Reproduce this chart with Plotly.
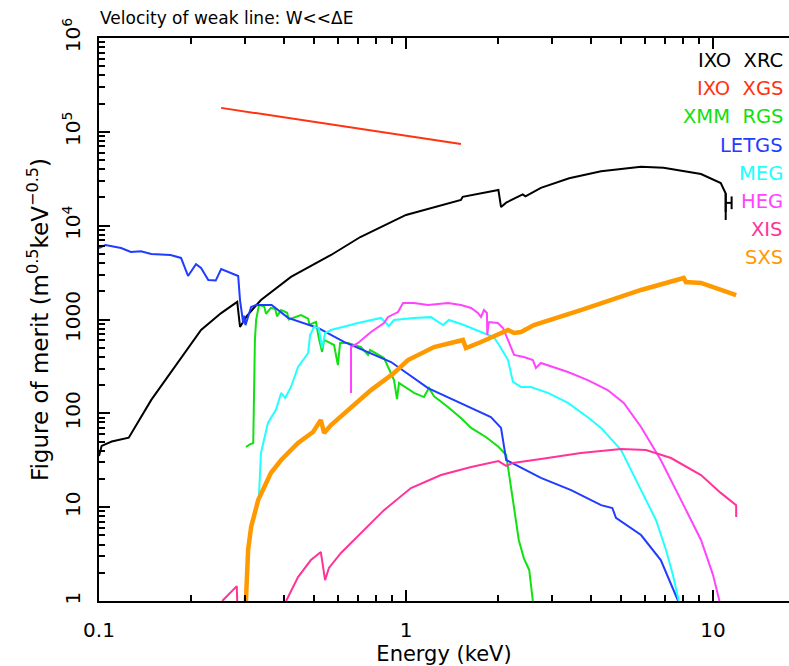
import plotly.graph_objects as go

# ---------------- data (energy in keV, figure of merit) ----------------
xrc_e = [0.1, 0.102, 0.11, 0.125, 0.148, 0.178, 0.215, 0.25, 0.282, 0.288, 0.303, 0.337,
         0.422, 0.57, 0.71, 1.0, 1.51, 1.53, 2.0, 2.04, 2.12, 2.4, 2.45, 2.75, 3.4, 4.32,
         5.83, 6.9, 9.14, 10.6, 11.0, 11.0]
xrc_v = [35, 45, 50, 55, 139, 327, 773, 1170, 1540, 832, 1090, 1615,
         2840, 4870, 7570, 13000, 18800, 20300, 24000, 15800, 17600, 21500, 20500, 25300, 32000, 38000,
         42500, 41500, 35500, 28500, 22000, 14000]
xrc_h_e = [11.0, 11.0, None, 11.0, 11.5, None, 11.5, 11.5]
xrc_h_v = [22000, 11500, None, 17500, 17500, None, 20500, 15000]

xgs_e = [0.25, 1.51]
xgs_v = [180000, 74000]

rgs_e = [0.301, 0.311, 0.318, 0.32, 0.322, 0.325, 0.332, 0.345, 0.35, 0.363, 0.375, 0.38,
         0.392, 0.41, 0.415, 0.455, 0.48, 0.485, 0.509, 0.52, 0.533, 0.541, 0.583, 0.6, 0.61,
         0.647, 0.714, 0.752, 0.764, 0.848, 0.914, 0.935, 0.949, 1.062, 1.144, 1.188, 1.234,
         1.37, 1.51, 1.63, 1.82, 2.0, 2.12, 2.23, 2.33, 2.42, 2.52, 2.59]
rgs_v = [43.8, 47, 48, 139, 605, 990, 1430, 1380, 1150, 1330, 1290, 1080,
         1260, 1180, 1000, 1117, 1020, 880, 940, 635, 451, 605, 535, 327, 562,
         562, 509, 419, 473, 389, 226, 142, 211, 165, 149, 186, 152,
         117, 89, 70, 56, 44, 36, 11.9, 4.47, 2.87, 2.14, 1]

letgs_e = [0.1, 0.105, 0.118, 0.127, 0.137, 0.148, 0.171, 0.185, 0.195, 0.207, 0.215,
           0.227, 0.24, 0.25, 0.284, 0.288, 0.295, 0.297, 0.3, 0.313, 0.325, 0.365, 0.413,
           0.517, 0.628, 0.894, 1.18, 1.54, 1.89, 2.04, 2.12, 2.75, 3.45, 4.32, 4.7, 4.83,
           5.83, 6.76, 7.7]
letgs_v = [5780, 6230, 5780, 5250, 5330, 4990, 4870, 4530, 2910, 3890, 3540,
           2640, 2600, 3450, 2910, 1600, 918, 1100, 870, 1360, 1430, 1430, 1040,
           812, 577, 352, 186, 123, 91, 70, 31.8, 20.5, 15.2, 10.5, 9.8, 7.7,
           5.05, 2.73, 1]

meg_e = [0.332, 0.337, 0.355, 0.377, 0.392, 0.404, 0.422, 0.445, 0.48, 0.487, 0.502, 0.52,
         0.533, 0.545, 0.57, 0.698, 0.829, 0.88, 0.914, 1.06, 1.206, 1.32, 1.38, 1.544,
         1.755, 1.93, 2.01, 2.15, 2.23, 2.37, 2.55, 2.9, 3.37, 3.91, 4.32, 5.02, 5.83,
         6.52, 7.03, 7.4, 7.74]
meg_v = [13.5, 37.8, 78.9, 109, 165, 146, 191, 312, 440, 684, 832, 812,
         497, 718, 773, 918, 1040, 853, 988, 1040, 1060, 874, 988, 874,
         736, 651, 535, 370, 216, 191, 191, 165, 129, 91, 70, 40.7, 15.2,
         7.3, 3.5, 1.9, 1]

heg_e = [0.662, 0.662, 0.698, 0.769, 0.848, 0.874, 0.942, 0.978, 1.062, 1.18, 1.37, 1.51,
         1.63, 1.715, 1.755, 1.795, 1.835, 1.84, 1.86, 1.99, 2.07, 2.15, 2.25, 2.42, 2.59,
         2.65, 2.75, 3.37, 3.91, 4.54, 5.12, 5.83, 6.76, 7.87, 9.14, 10.0, 10.5]
heg_v = [165, 509, 562, 736, 918, 1065, 1200, 1500, 1500, 1430, 1500, 1430,
         1327, 1173, 1064, 1262, 1173, 684, 940, 918, 812, 605, 419, 398, 370,
         304, 344, 276, 226, 177, 129, 71.5, 31.8, 11.9, 4.47, 1.9, 1]

xis_e = [0.252, 0.281, 0.282, None, 0.407, 0.413, 0.445, 0.49, 0.528, 0.545, 0.561, 0.614,
         0.73, 0.848, 1.038, 1.3, 1.63, 2.0, 2.12, 2.23, 2.75, 3.71, 5.02, 6.05, 7.3,
         9.14, 10.6, 11.9, 11.9]
xis_v = [1, 1.44, 1, None, 1, 1.1, 1.8, 2.73, 3.33, 1.67, 2.25, 3.25,
         5.7, 9.3, 16, 22, 26.8, 31, 27.5, 29.6, 32.6, 37.8, 41.7, 40.7, 33.4,
         22, 14.2, 10.5, 7.85]

sxs_e = [0.301, 0.303, 0.306, 0.313, 0.33, 0.363, 0.392, 0.445, 0.498, 0.528, 0.541, 0.57,
         0.647, 0.769, 0.914, 1.015, 1.234, 1.533, 1.568, 1.755, 2.15, 2.25, 2.37, 2.61,
         3.71, 5.83, 8.03, 8.16, 9.14, 11.9]
sxs_v = [1, 1.67, 3.5, 6.15, 11.9, 23.1, 31.8, 48.3, 63.2, 84.9, 61.7, 75.1,
         109, 177, 269, 370, 509, 605, 497, 575, 773, 718, 736, 874,
         1262, 2064, 2770, 2510, 2450, 1824]

names = ["IXO  XRC", "IXO  XGS", "XMM  RGS", "LETGS", "MEG", "HEG", "XIS", "SXS"]
colors = ["#000000", "#ff3311", "#11e011", "#1f3cff", "#22ffff", "#ff44ff", "#ff3399", "#ff9900"]

x_major = [0.1, 1, 10]
x_major_text = ["0.1", "1", "10"]
y_major = [1, 10, 100, 1000, 1e4, 1e5, 1e6]
y_major_text = ["1", "10", "100", "1000", "10<sup>4</sup>", "10<sup>5</sup>", "10<sup>6</sup>"]

# ---------------- figure ----------------
fig = go.Figure()
series = [(xrc_e, xrc_v, 2), (xgs_e, xgs_v, 2), (rgs_e, rgs_v, 2), (letgs_e, letgs_v, 2),
          (meg_e, meg_v, 2), (heg_e, heg_v, 2), (xis_e, xis_v, 2), (sxs_e, sxs_v, 4.5)]
for (e, v, w), n, c in zip(series, names, colors):
    fig.add_trace(go.Scatter(x=e, y=v, mode="lines", name=n, line=dict(color=c, width=w),
                             connectgaps=False, showlegend=False))
fig.add_trace(go.Scatter(x=xrc_h_e, y=xrc_h_v, mode="lines", line=dict(color="#000000", width=2),
                         connectgaps=False, showlegend=False))

x_minor = [m * d for d in [0.1, 1, 10] for m in range(2, 10)]
y_minor = [m * d for d in [1, 10, 100, 1000, 1e4, 1e5] for m in range(2, 10)]

FAM = "DejaVu Sans, Verdana, sans-serif"
font = dict(family=FAM, size=18, color="#000000")

fig.update_layout(
    width=789, height=666,
    margin=dict(l=99, r=0, t=38, b=65),
    plot_bgcolor="white", paper_bgcolor="white",
    font=font,
    title=dict(text="Velocity of weak line: W&lt;&lt;ΔE", x=100 / 789, xanchor="left",
               y=1 - 18 / 666, yanchor="middle", font=dict(family=FAM, size=17)),
)
fig.update_xaxes(
    type="log", range=[-1, 1.2476], showgrid=False, zeroline=False,
    showline=True, linecolor="black", linewidth=2, mirror="ticks",
    ticks="inside", ticklen=11, tickwidth=1.5, tickcolor="black",
    tickmode="array", tickvals=x_major, ticktext=x_major_text,
    tickfont=dict(family=FAM, size=20),
    ticklabelstandoff=10,
    minor=dict(tickmode="array", tickvals=x_minor, ticks="inside", ticklen=6,
               tickwidth=1.5, tickcolor="black", showgrid=False),
    title=dict(text="Energy (keV)", standoff=2, font=dict(family=FAM, size=21)),
)
fig.update_yaxes(
    type="log", range=[0, 6], showgrid=False, zeroline=False,
    showline=True, linecolor="black", linewidth=2, mirror=False,
    ticks="inside", ticklen=11, tickwidth=1.5, tickcolor="black",
    tickmode="array", tickvals=y_major, ticktext=y_major_text, tickangle=-90,
    tickfont=dict(family=FAM, size=20),
    ticklabelstandoff=9,
    minor=dict(tickmode="array", tickvals=y_minor, ticks="inside", ticklen=6,
               tickwidth=1.5, tickcolor="black", showgrid=False),
    title=dict(text="Figure of merit (m<sup>0.5</sup>keV<sup>−0.5</sup>)", standoff=4,
               font=dict(family=FAM, size=23)),
)

legend_py = [60, 88, 117, 145, 173, 202, 229, 257]
for n, c, py in zip(names, colors, legend_py):
    fig.add_annotation(text=n, x=(785 - 99) / 690, y=(601 - py) / 563, xref="paper", yref="paper",
                       xanchor="right", yanchor="middle", showarrow=False,
                       font=dict(family=FAM, size=19.5, color=c))

fig.write_html("out.html")
